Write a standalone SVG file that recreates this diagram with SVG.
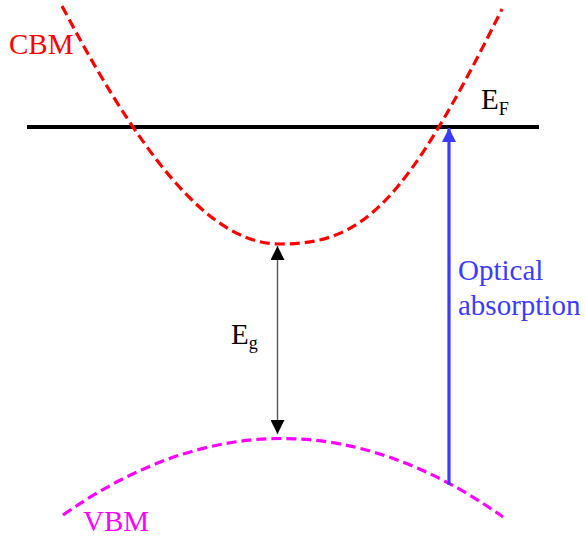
<svg xmlns="http://www.w3.org/2000/svg" width="585" height="537" viewBox="0 0 585 537">
<style>
  text { font-family: "Liberation Serif", "DejaVu Serif", serif; font-size: 29px; }
  .sub { font-size: 18px; }
  .dash { fill: none; stroke-width: 3.2; stroke-dasharray: 10 5; }
</style>
<defs>
  <marker id="ahBlack" viewBox="0 0 10 10" refX="10" refY="5" markerWidth="14" markerHeight="14" markerUnits="userSpaceOnUse" orient="auto-start-reverse">
    <path d="M0,0 L10,5 L0,10 Z" fill="#000"/>
  </marker>
  <marker id="ahBlue" viewBox="0 0 10 10" refX="10" refY="5" markerWidth="16" markerHeight="14" markerUnits="userSpaceOnUse" orient="auto">
    <path d="M0,0 L10,5 L0,10 Z" fill="#3b3bff"/>
  </marker>
</defs>
<g id="fermi-level">
  <line x1="27" y1="127" x2="539" y2="127" stroke="#000" stroke-width="4"/>
  <text x="481" y="109" font-size="28">E<tspan class="sub" dy="6">F</tspan></text>
</g>
<g id="cbm">
  <path class="dash" stroke="#ff0000" d="M62,6 C157,187 222,244 280,244 C362,244 404,207 502,9"/>
  <text x="9" y="54" fill="#ff0000">CBM</text>
</g>
<g id="vbm">
  <path class="dash" stroke="#ff00ff" d="M63,515 Q283,361 503,517"/>
  <text x="83" y="531" fill="#ff00ff">VBM</text>
</g>
<g id="connectors">
  <line id="gap" x1="277.5" y1="246" x2="277.5" y2="434" stroke="#555" stroke-width="1.4" marker-start="url(#ahBlack)" marker-end="url(#ahBlack)"/>
  <line id="absorption" x1="449" y1="485" x2="449" y2="128" stroke="#3b3bff" stroke-width="3.2" marker-end="url(#ahBlue)"/>
</g>
<g id="eg-label">
  <text x="231" y="344" font-size="28">E<tspan class="sub" dy="5">g</tspan></text>
</g>
<g id="optical-label">
  <text x="458" y="280" fill="#3b3bff">Optical</text>
  <text x="458" y="315" fill="#3b3bff">absorption</text>
</g>
</svg>
